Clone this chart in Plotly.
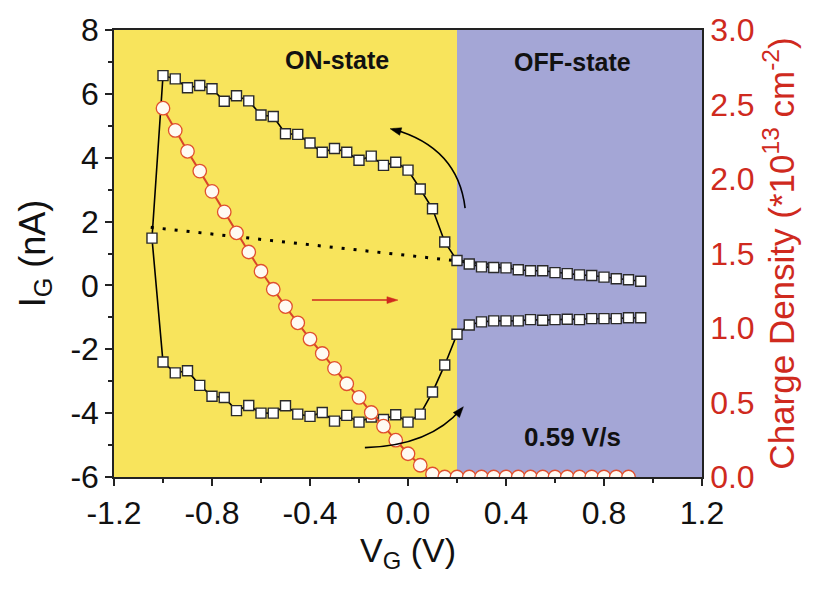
import plotly.graph_objects as go

# ---------------- data ----------------
# Gate current loop (squares): upper branch swept from +0.95 V down to -1.0 V,
# turning point at -1.05 V, lower branch swept from -1.0 V up to +0.95 V
vg_upper = [0.95, 0.90, 0.85, 0.80, 0.75, 0.70, 0.65, 0.60, 0.55, 0.50, 0.45, 0.40,
            0.35, 0.30, 0.25, 0.20, 0.15, 0.10, 0.05, 0.00, -0.05, -0.10, -0.15,
            -0.20, -0.25, -0.30, -0.35, -0.40, -0.45, -0.50, -0.55, -0.60, -0.65,
            -0.70, -0.75, -0.80, -0.85, -0.90, -0.95, -1.00]
ig_upper = [0.13, 0.18, 0.21, 0.26, 0.31, 0.33, 0.37, 0.40, 0.46, 0.46, 0.49, 0.55,
            0.56, 0.58, 0.67, 0.78, 1.36, 2.40, 3.02, 3.61, 3.86, 3.76, 4.05,
            3.92, 4.17, 4.29, 4.17, 4.46, 4.73, 4.75, 5.29, 5.34, 5.78,
            5.94, 5.77, 6.16, 6.26, 6.19, 6.47, 6.57]
vg_turn = [-1.045]
ig_turn = [1.48]
vg_lower = [-1.00, -0.95, -0.90, -0.85, -0.80, -0.75, -0.70, -0.65, -0.60, -0.55,
            -0.50, -0.45, -0.40, -0.35, -0.30, -0.25, -0.20, -0.15, -0.10, -0.05,
            0.00, 0.05, 0.10, 0.15, 0.20, 0.25, 0.30, 0.35, 0.40, 0.45, 0.50,
            0.55, 0.60, 0.65, 0.70, 0.75, 0.80, 0.85, 0.90, 0.95]
ig_lower = [-2.40, -2.74, -2.67, -3.13, -3.47, -3.51, -3.92, -3.76, -4.00, -4.00,
            -3.77, -4.03, -4.10, -3.98, -4.25, -4.07, -4.28, -4.12, -4.20, -4.05,
            -4.28, -4.03, -3.34, -2.49, -1.53, -1.24, -1.14, -1.11, -1.11, -1.11,
            -1.07, -1.09, -1.07, -1.06, -1.07, -1.04, -1.04, -1.04, -1.01, -1.01]

# Dotted baseline
vg_base = [-1.05, 0.95]
ig_base = [1.82, 0.14]

# Charge density (circles, right axis, *1e13 cm^-2)
vg_charge = [-1.00, -0.95, -0.90, -0.85, -0.80, -0.75, -0.70, -0.65, -0.60, -0.55,
             -0.50, -0.45, -0.40, -0.35, -0.30, -0.25, -0.20, -0.15, -0.10, -0.05,
             0.00, 0.05, 0.10, 0.15, 0.20, 0.25, 0.30, 0.35, 0.40, 0.45, 0.50,
             0.55, 0.60, 0.65, 0.70, 0.75, 0.80, 0.85, 0.90]
charge = [2.475, 2.326, 2.186, 2.053, 1.917, 1.779, 1.639, 1.510, 1.381, 1.260,
          1.144, 1.035, 0.926, 0.829, 0.729, 0.626, 0.534, 0.433, 0.341, 0.247,
          0.156, 0.079, 0.020, 0.0, 0.0, 0.0, 0.0, 0.0, 0.0, 0.0, 0.0,
          0.0, 0.0, 0.0, 0.0, 0.0, 0.0, 0.0, 0.0]

x_ticks = [-1.2, -0.8, -0.4, 0.0, 0.4, 0.8, 1.2]
x_ticktext = ["-1.2", "-0.8", "-0.4", "0.0", "0.4", "0.8", "1.2"]
y_ticks = [-6, -4, -2, 0, 2, 4, 6, 8]
y_ticktext = ["-6", "-4", "-2", "0", "2", "4", "6", "8"]
y2_ticks = [0.0, 0.5, 1.0, 1.5, 2.0, 2.5, 3.0]
y2_ticktext = ["0.0", "0.5", "1.0", "1.5", "2.0", "2.5", "3.0"]
on_off_boundary = 0.2

# ---------------- styling ----------------
FONT = "Liberation Sans, Arial, Helvetica, sans-serif"
RED = "#cf2a1e"
YELLOW = "#f8e45c"
BLUE = "#a4a6d6"

W, H = 820, 592
ML, MR, MT, MB = 114, 118, 20, 115
XR = (-1.2, 1.2)
YR = (-6, 8)
px_per_x = (W - ML - MR) / (XR[1] - XR[0])
px_per_y = (H - MT - MB) / (YR[1] - YR[0])


def arrowhead_path(tip_x, tip_y, ux, uy, length=11, width=8):
    """Filled triangle at (tip_x, tip_y) pointing along screen direction (ux, uy)."""
    n = (ux ** 2 + uy ** 2) ** 0.5
    ux, uy = ux / n, uy / n
    px_, py_ = -uy, ux

    def to_data(dx, dy):
        return tip_x + dx / px_per_x, tip_y - dy / px_per_y

    bx, by = -ux * length, -uy * length
    p1 = to_data(bx + px_ * width / 2, by + py_ * width / 2)
    p2 = to_data(bx - px_ * width / 2, by - py_ * width / 2)
    return f"M {tip_x},{tip_y} L {p1[0]},{p1[1]} L {p2[0]},{p2[1]} Z"


vg_loop = vg_upper + vg_turn + vg_lower
ig_loop = ig_upper + ig_turn + ig_lower

fig = go.Figure()

fig.add_trace(go.Scatter(
    x=vg_base, y=ig_base, mode="lines",
    line=dict(color="black", width=3, dash="3px,9px"),
    showlegend=False, hoverinfo="skip"))

fig.add_trace(go.Scatter(
    x=vg_loop, y=ig_loop, mode="lines+markers",
    line=dict(color="black", width=1.6),
    marker=dict(symbol="square", size=10, color="white",
                line=dict(color="#2a2a2a", width=1.4)),
    showlegend=False))

fig.add_trace(go.Scatter(
    x=vg_charge, y=charge, mode="lines+markers", yaxis="y2",
    line=dict(color="#d8452a", width=2),
    marker=dict(symbol="circle", size=13.5, color="#fffaf2",
                line=dict(color="#e0502e", width=1.3)),
    showlegend=False))

shapes = [
    dict(type="rect", xref="x", yref="paper", x0=-1.2, x1=on_off_boundary, y0=0, y1=1,
         fillcolor=YELLOW, line=dict(width=0), layer="below"),
    dict(type="rect", xref="x", yref="paper", x0=on_off_boundary, x1=1.2, y0=0, y1=1,
         fillcolor=BLUE, line=dict(width=0), layer="below"),
    # curved sweep-direction arrows
    dict(type="path", xref="x", yref="y",
         path="M 0.233,2.42 Q 0.204,4.32 -0.060,4.89",
         line=dict(color="black", width=1.6)),
    dict(type="path", xref="x", yref="y",
         path=arrowhead_path(-0.073, 4.91, -0.963, -0.269),
         fillcolor="black", line=dict(color="black", width=0.5)),
    dict(type="path", xref="x", yref="y",
         path="M -0.176,-5.08 Q 0.090,-5.02 0.218,-3.86",
         line=dict(color="black", width=1.6)),
    dict(type="path", xref="x", yref="y",
         path=arrowhead_path(0.226, -3.80, 0.636, -0.771),
         fillcolor="black", line=dict(color="black", width=0.5)),
    # red horizontal arrow
    dict(type="line", xref="x", yref="y", x0=-0.392, x1=-0.07, y0=-0.46, y1=-0.46,
         line=dict(color=RED, width=1.5)),
    dict(type="path", xref="x", yref="y",
         path=arrowhead_path(-0.041, -0.46, 1, 0, length=11, width=7),
         fillcolor=RED, line=dict(color=RED, width=0.5)),
]

annotations = [
    dict(x=-0.29, y=7.07, xref="x", yref="y", text="<b>ON-state</b>", showarrow=False,
         font=dict(family=FONT, size=25, color="#111111")),
    dict(x=0.672, y=7.0, xref="x", yref="y", text="<b>OFF-state</b>", showarrow=False,
         font=dict(family=FONT, size=25, color="#111111")),
    dict(x=0.67, y=-4.75, xref="x", yref="y", text="<b>0.59 V/s</b>", showarrow=False,
         font=dict(family=FONT, size=26, color="#111111")),
]

fig.update_layout(
    width=W, height=H,
    margin=dict(l=ML, r=MR, t=MT, b=MB),
    paper_bgcolor="white", plot_bgcolor="white",
    font=dict(family=FONT, size=32, color="#111111"),
    shapes=shapes, annotations=annotations,
    xaxis=dict(
        range=list(XR), tickvals=x_ticks, ticktext=x_ticktext,
        showline=True, linecolor="#222222", linewidth=1.5, mirror=True,
        ticks="outside", ticklen=7, tickwidth=1.5, tickcolor="#222222",
        minor=dict(dtick=0.2, tick0=-1.2, ticks="outside", ticklen=4, tickcolor="#222222"),
        showgrid=False, zeroline=False,
        tickfont=dict(size=32, color="#111111"),
        title=dict(text="V<sub>G</sub> (V)", font=dict(size=34, color="#111111"), standoff=8),
    ),
    yaxis=dict(
        range=list(YR), tickvals=y_ticks, ticktext=y_ticktext,
        showline=True, linecolor="#222222", linewidth=1.5,
        ticks="outside", ticklen=7, tickwidth=1.5, tickcolor="#222222",
        minor=dict(dtick=1, tick0=-6, ticks="outside", ticklen=4, tickcolor="#222222"),
        showgrid=False, zeroline=False,
        tickfont=dict(size=32, color="#111111"),
        title=dict(text="I<sub>G</sub> (nA)", font=dict(size=36, color="#111111"), standoff=14),
    ),
    yaxis2=dict(
        range=[0, 3], tickvals=y2_ticks, ticktext=y2_ticktext,
        overlaying="y", side="right",
        showline=True, linecolor="#222222", linewidth=1.5,
        ticks="", showgrid=False, zeroline=False,
        tickfont=dict(size=32, color=RED),
        title=dict(text="Charge Density (*10<sup>13</sup> cm<sup>-2</sup>)",
                   font=dict(size=35, color=RED), standoff=16),
    ),
)

fig.write_html("out.html")
